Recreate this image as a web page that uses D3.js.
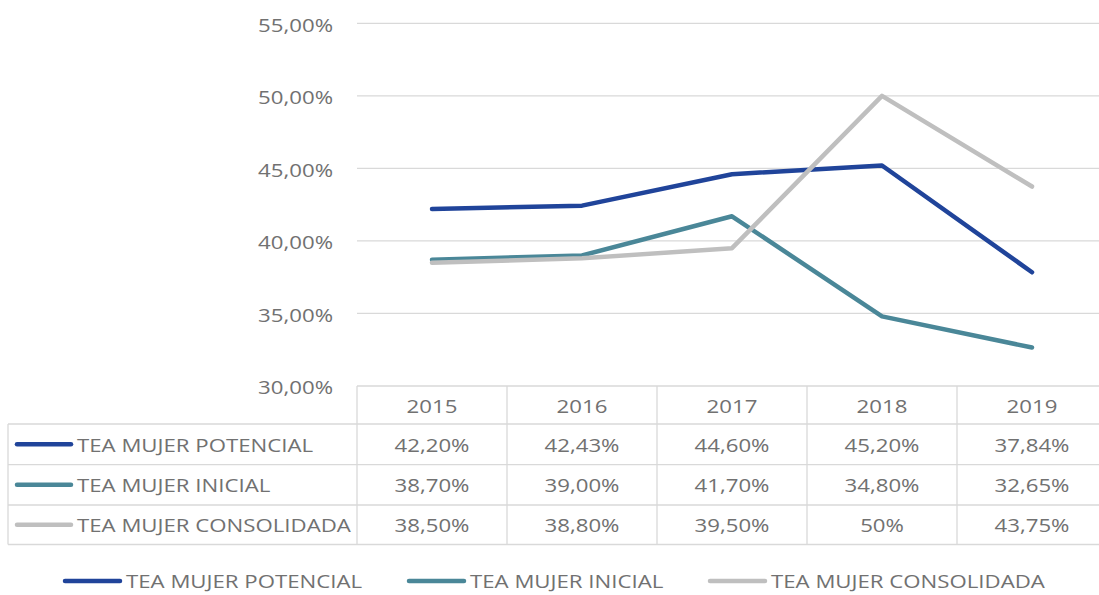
<!DOCTYPE html>
<html>
<head>
<meta charset="utf-8">
<script src="https://cdn.jsdelivr.net/npm/d3@7"></script>
<style>
  html, body { margin: 0; padding: 0; background: #fff; }
  svg text { font-family: "Open Sans", "Noto Sans", sans-serif; fill: #717171; }
</style>
</head>
<body>
<svg id="chart" width="1099" height="595"></svg>
<script>
// Data
const years = ["2015", "2016", "2017", "2018", "2019"];
const seriesNames = ["TEA MUJER POTENCIAL", "TEA MUJER INICIAL", "TEA MUJER CONSOLIDADA"];
const potencial = [42.20, 42.43, 44.60, 45.20, 37.84];
const inicial = [38.70, 39.00, 41.70, 34.80, 32.65];
const consolidada = [38.50, 38.80, 39.50, 50.00, 43.75];
const tableLabels = [
  ["42,20%", "42,43%", "44,60%", "45,20%", "37,84%"],
  ["38,70%", "39,00%", "41,70%", "34,80%", "32,65%"],
  ["38,50%", "38,80%", "39,50%", "50%", "43,75%"]
];
const yTicks = [30, 35, 40, 45, 50, 55];
const colors = ["#20449a", "#4a8798", "#bfbfbf"];

const series = [potencial, inicial, consolidada];

const svg = d3.select("#chart");
const gridColor = "#d9d9d9";
const fontSize = 19;
const stretch = 1.17;

// Text with the wide letterforms used throughout the chart
function label(parent, px, py, str, anchor) {
  parent.append("g")
    .attr("transform", `translate(${px},${py}) scale(${stretch},1)`)
    .append("text")
    .attr("text-anchor", anchor || "start")
    .attr("dominant-baseline", "central")
    .attr("font-size", fontSize)
    .text(str);
}

const x = d3.scaleBand().domain(years).range([357, 1107]).padding(0);
const y = d3.scaleLinear().domain([30, 55]).range([386, 23.3]);

// Horizontal gridlines
svg.append("g").selectAll("line").data(yTicks.filter(t => t > 30)).join("line")
  .attr("x1", 357).attr("x2", 1107)
  .attr("y1", d => y(d)).attr("y2", d => y(d))
  .attr("stroke", gridColor).attr("stroke-width", 1.3);

// Y-axis labels
const yAxisG = svg.append("g");
yTicks.forEach(t => label(yAxisG, 333, y(t) + 1, d3.format(".2f")(t).replace(".", ",") + "%", "end"));

// Lines
const line = d3.line()
  .x((d, i) => x(years[i]) + x.bandwidth() / 2)
  .y(d => y(d));

svg.append("g").selectAll("path").data(series).join("path")
  .attr("d", line)
  .attr("fill", "none")
  .attr("stroke", (d, i) => colors[i])
  .attr("stroke-width", 4.5)
  .attr("stroke-linejoin", "round")
  .attr("stroke-linecap", "round");

// Data table below the plot
const rowEdges = [386, 424, 464.7, 505, 544.5];
const tableLeft = 8;
const table = svg.append("g");

// horizontal borders
table.selectAll("line.h").data(rowEdges).join("line")
  .attr("class", "h")
  .attr("x1", (d, i) => i === 0 ? 357 : tableLeft).attr("x2", 1107)
  .attr("y1", d => d).attr("y2", d => d)
  .attr("stroke", gridColor).attr("stroke-width", 1.3);

// vertical borders
const colEdges = years.map(yr => x(yr)).concat([x.range()[1]]);
table.selectAll("line.v").data(colEdges).join("line")
  .attr("class", "v")
  .attr("x1", d => d).attr("x2", d => d)
  .attr("y1", rowEdges[0]).attr("y2", rowEdges[4])
  .attr("stroke", gridColor).attr("stroke-width", 1.3);
table.append("line")
  .attr("x1", tableLeft).attr("x2", tableLeft)
  .attr("y1", rowEdges[1]).attr("y2", rowEdges[4])
  .attr("stroke", gridColor).attr("stroke-width", 1.3);

// header years
years.forEach(yr => label(table, x(yr) + x.bandwidth() / 2, (rowEdges[0] + rowEdges[1]) / 2 + 1, yr, "middle"));

// rows
seriesNames.forEach((name, r) => {
  const cy = (rowEdges[r + 1] + rowEdges[r + 2]) / 2;
  table.append("line")
    .attr("x1", 17).attr("x2", 71)
    .attr("y1", cy).attr("y2", cy)
    .attr("stroke", colors[r]).attr("stroke-width", 4.5)
    .attr("stroke-linecap", "round");
  label(table, 77, cy, name, "start");
  tableLabels[r].forEach((v, i) => label(table, x(years[i]) + x.bandwidth() / 2, cy, v, "middle"));
});

// Bottom legend
const legendX = [63, 407, 708];
const legend = svg.append("g");
seriesNames.forEach((name, i) => {
  legend.append("line")
    .attr("x1", legendX[i] + 2).attr("x2", legendX[i] + 57)
    .attr("y1", 581).attr("y2", 581)
    .attr("stroke", colors[i]).attr("stroke-width", 4.5)
    .attr("stroke-linecap", "round");
  label(legend, legendX[i] + 63, 581, name, "start");
});
</script>
</body>
</html>
